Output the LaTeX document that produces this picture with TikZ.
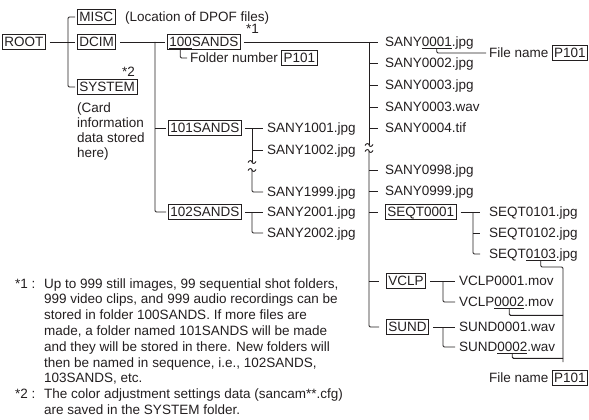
\documentclass[tikz,border=0pt]{standalone}
\usepackage{fontspec}
\setmainfont{Liberation Sans}
\usetikzlibrary{calc}
\definecolor{ink}{RGB}{35,31,32}
\tikzset{
  box/.style={draw=ink, line width=0.9pt, text=ink, inner xsep=2pt, inner ysep=2.5pt, text height=9.7pt, text depth=0pt, anchor=west},
  lbl/.style={text=ink, inner xsep=2pt, inner ysep=2.5pt, text height=9.7pt, text depth=0pt, anchor=west},
  conn/.style={draw=ink, line width=0.9pt, rounded corners=1.2pt},
  para/.style={text=ink, anchor=base west, inner sep=0pt, align=left},
  brk/.pic={\draw[conn] (-4,0.5) .. controls (-2.5,-2.5) and (-0.5,-1) .. (0,0) .. controls (0.5,1) and (2.5,2.5) .. (4,-0.5);}
}
\begin{document}
\begin{tikzpicture}[x=1pt,y=-1pt]
\fontsize{13.5}{16}\selectfont
\useasboundingbox (0,0) rectangle (589,420);

% --- root level ---
\node[box] (root) at (2,42) {ROOT};
\node[box] (misc) at (77,17) {MISC};
\node[lbl] (loc) at (123,17) {(Location of DPOF files)};
\node[box] (dcim) at (77,42) {DCIM};
\node[box] (system) at (77,87) {SYSTEM};
\node[lbl,anchor=east] (st2) at (137,72) {*2};
% base anchor = baseline of the last line
\node[para, font=\fontsize{13.5}{15.2}\selectfont] (card) at (77,157.6) {(Card\\information\\data stored\\here)};
\draw[conn, shorten <=4pt, shorten >=2pt] (root.east) -- (dcim.west);
\draw[conn, shorten <=2pt, shorten >=2pt] (misc.west) -- ++(-9,0) |- (system.west);

% --- DCIM level ---
\node[box] (s100) at (167,42) {100SANDS};
\node[lbl] (st1) at (244,29) {*1};
\node[box] (s101) at (168,128) {101SANDS};
\node[box] (s102) at (168,212) {102SANDS};
\draw[conn, shorten <=4pt, shorten >=2pt] (dcim.east) -- (s100.west);
\coordinate (ja) at (155,42);
\draw[conn, shorten >=2pt] (ja) |- (s102.west);
\draw[conn, shorten >=2pt] (ja |- s101.west) -- (s101.west);

\node[lbl] (fold) at (188,58) {Folder number};
\node[box] (pa) at ($(fold.east)+(1,0)$) {P101};
\path ($(s100.base west)+(2,1.5)$) coordinate (u0a)
      ($(u0a)+({width("100")},0)$) coordinate (u0b)
      ($(u0a)!0.5!(u0b)$) coordinate (u0m);
\draw[conn] (u0a) -- (u0b);
\draw[conn, shorten >=1pt] (u0m) |- (fold.west);

% --- 101SANDS / 102SANDS files ---
\node[lbl] (f1001) at (265,128) {SANY1001.jpg};
\node[lbl] (f1002) at (265,150) {SANY1002.jpg};
\node[lbl] (f1999) at (265,192) {SANY1999.jpg};
\node[lbl] (f2001) at (265,212) {SANY2001.jpg};
\node[lbl] (f2002) at (265,233) {SANY2002.jpg};
\coordinate (jb) at (252,128);
\coordinate (bk1) at (252,162);
\coordinate (bk2) at (252,170);
\draw[conn, shorten <=3pt, shorten >=2pt] (s101.east) -- (f1001.west);
\draw[conn] (jb) -- (bk1);
\pic at (bk1) {brk};
\pic at (bk2) {brk};
\draw[conn, shorten >=2pt] (bk2) |- (f1999.west);
\draw[conn, shorten >=2pt] (jb |- f1002.west) -- (f1002.west);
\draw[conn, shorten <=3pt, shorten >=2pt] (s102.east) -- (f2001.west);
\draw[conn, shorten >=2pt] (jb |- s102.east) |- (f2002.west);

% --- 100SANDS files ---
\node[lbl] (f0001) at (383,42) {SANY0001.jpg};
\node[lbl] (f0002) at (383,63) {SANY0002.jpg};
\node[lbl] (f0003) at (383,85) {SANY0003.jpg};
\node[lbl] (f0003w) at (383,107) {SANY0003.wav};
\node[lbl] (f0004) at (383,128) {SANY0004.tif};
\node[lbl] (f0998) at (383,170) {SANY0998.jpg};
\node[lbl] (f0999) at (383,191) {SANY0999.jpg};
\node[box] (seqt) at (385,212) {SEQT0001};
\node[box] (vclp) at (386,281) {VCLP};
\node[box] (sund) at (386,327) {SUND};
\coordinate (jc) at (369,42);
\coordinate (bk3) at (369,145);
\coordinate (bk4) at (369,151);
\draw[conn, shorten <=3pt, shorten >=5pt] (s100.east) -- (f0001.west);
\draw[conn] (jc) -- (bk3);
\pic at (bk3) {brk};
\pic at (bk4) {brk};
\draw[conn, shorten >=7pt] (bk4) |- (sund.west);
\foreach \f in {f0002,f0003,f0003w,f0004,f0998,f0999}
  \draw[conn, shorten >=5pt] (jc |- \f.west) -- (\f.west);
\foreach \f in {seqt,vclp}
  \draw[conn, shorten >=7pt] (jc |- \f.west) -- (\f.west);

% --- File name (top) ---
\node[lbl] (fn1) at (487,53) {File name};
\node[box] (pb) at ($(fn1.east)+(1,0)$) {P101};
\path ($(f0001.base west)+({2+width("SANY")},1.5)$) coordinate (u1a)
      ($(u1a)+({width("0001")},0)$) coordinate (u1b)
      ($(u1a)!0.5!(u1b)$) coordinate (u1m);
\draw[conn] (u1a) -- (u1b);
\draw[conn, shorten >=1pt] (u1m) |- (fn1.west);

% --- SEQT files ---
\node[lbl] (q0101) at (487,212) {SEQT0101.jpg};
\node[lbl] (q0102) at (487,233) {SEQT0102.jpg};
\node[lbl] (q0103) at (487,254) {SEQT0103.jpg};
\coordinate (jd) at (473,212);
\draw[conn, shorten <=4pt, shorten >=7pt] (seqt.east) -- (q0101.west);
\draw[conn, shorten >=7pt] (jd) |- (q0103.west);
\draw[conn, shorten >=7pt] (jd |- q0102.west) -- (q0102.west);

% --- VCLP / SUND files ---
\node[lbl] (v1) at (457,281) {VCLP0001.mov};
\node[lbl] (v2) at (457,302) {VCLP0002.mov};
\node[lbl] (w1) at (457,327) {SUND0001.wav};
\node[lbl] (w2) at (457,347) {SUND0002.wav};
\coordinate (je) at (443,281);
\coordinate (jf) at (443,327);
\draw[conn, shorten <=4pt, shorten >=2pt] (vclp.east) -- (v1.west);
\draw[conn, shorten >=2pt] (je) |- (v2.west);
\draw[conn, shorten <=4pt, shorten >=2pt] (sund.east) -- (w1.west);
\draw[conn, shorten >=2pt] (jf) |- (w2.west);

% --- File name (bottom) ---
\node[lbl] (fn2) at (487,378) {File name};
\node[box] (pc) at ($(fn2.east)+(1,0)$) {P101};
\coordinate (jg) at (563,267);
\coordinate (jh) at (563,362);
\path ($(q0103.base west)+({2+width("SEQT")},1.5)$) coordinate (u3a)
      ($(u3a)+({width("0103")},0)$) coordinate (u3b)
      ($(u3a)!0.5!(u3b)$) coordinate (u3m);
\path ($(v2.base west)+({2+width("VCLP")},1.5)$) coordinate (u4a)
      ($(u4a)+({width("0002")},0)$) coordinate (u4b)
      ($(u4a)!0.5!(u4b)$) coordinate (u4m);
\path ($(w2.base west)+({2+width("SUND")},1.5)$) coordinate (u5a)
      ($(u5a)+({width("0002")},0)$) coordinate (u5b)
      ($(u5a)!0.5!(u5b)$) coordinate (u5m);
\draw[conn] (u3a) -- (u3b);
\draw[conn] (u4a) -- (u4b);
\draw[conn] (u5a) -- (u5b);
\draw[conn] (u3m) |- (jg) -- (jh);
\draw[conn] (u4m) -- ++(0,7) coordinate (t4) -- (t4 -| jg);
\draw[conn] (u5m) -- ++(0,5) coordinate (t5) -- (t5 -| jg);

% --- notes (base anchor = last line's baseline) ---
\node[para] (n1) at (15,288) {*1 :};
\node[para, font=\fontsize{13.5}{15.8}\selectfont] (n1t) at (44,382.8) {Up to 999 still images, 99 sequential shot folders,\\999 video clips, and 999 audio recordings can be\\stored in folder 100SANDS. If more files are\\made, a folder named 101SANDS will be made\\and they will be stored in there. New folders will\\then be named in sequence, i.e., 102SANDS,\\103SANDS, etc.};
\node[para] (n2) at (15,398.6) {*2 :};
\node[para, font=\fontsize{13.5}{15.8}\selectfont] (n2t) at (44,414.4) {The color adjustment settings data (sancam**.cfg)\\are saved in the SYSTEM folder.};
\end{tikzpicture}
\end{document}
